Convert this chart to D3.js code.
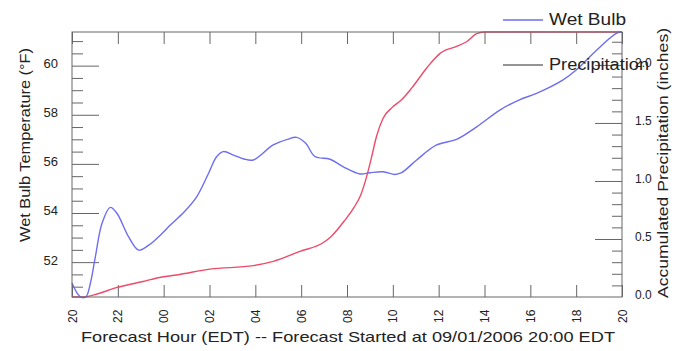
<!DOCTYPE html>
<html>
<head>
<meta charset="utf-8">
<script src="https://cdn.jsdelivr.net/npm/d3@7"></script>
<style>
  html, body { margin: 0; padding: 0; background: #fff; }
  svg { display: block; font-family: "Liberation Sans", Arial, sans-serif; }
</style>
</head>
<body>
<svg id="chart" width="682" height="351"></svg>
<script>
// ---- data ----
const wetBulbHours = [0, 0.35, 0.6, 0.8, 1.02, 1.31, 1.67, 1.96, 2.47, 2.91, 3.35, 3.93, 4.28, 4.9, 5.44, 5.95, 6.31, 6.6, 7.05, 7.5, 7.91, 8.78, 9.4, 9.8, 10.2, 10.6, 11.26, 11.84, 12.57, 13.0, 13.58, 14.09, 14.38, 15.04, 15.91, 16.78, 17.66, 18.67, 19.5, 20.27, 21.43, 22.0, 22.9, 23.77, 24];
const wetBulb = [51.15, 50.6, 50.58, 51.13, 52.22, 53.58, 54.23, 53.99, 53.03, 52.49, 52.69, 53.17, 53.5, 54.05, 54.66, 55.6, 56.29, 56.5, 56.36, 56.2, 56.16, 56.77, 57.0, 57.08, 56.84, 56.3, 56.19, 55.88, 55.59, 55.64, 55.68, 55.57, 55.64, 56.16, 56.77, 57.0, 57.51, 58.19, 58.6, 58.87, 59.42, 59.82, 60.64, 61.32, 61.37];

const precipHours = [0, 0.5, 1.0, 1.89, 3.1, 3.93, 4.57, 6.02, 7.91, 8.78, 9.95, 10.97, 11.3, 11.9, 12.3, 12.6, 12.86, 13.08, 13.29, 13.58, 13.95, 14.38, 14.82, 15.48, 16.06, 16.78, 17.22, 17.66, 18.0, 24];
const precip = [0, 0, 0.02, 0.078, 0.134, 0.172, 0.19, 0.24, 0.27, 0.307, 0.393, 0.47, 0.52, 0.66, 0.77, 0.88, 1.04, 1.212, 1.385, 1.543, 1.63, 1.70, 1.80, 1.974, 2.10, 2.16, 2.20, 2.27, 2.284, 2.284];

const hourTicks = [0, 2, 4, 6, 8, 10, 12, 14, 16, 18, 20, 22, 24];
const hourTickLabels = ["20", "22", "00", "02", "04", "06", "08", "10", "12", "14", "16", "18", "20"];
const tempTicks = [52, 54, 56, 58, 60];
const precipTicks = [0.0, 0.5, 1.0, 1.5, 2.0];

const seriesNames = ["Wet Bulb", "Precipitation"];
const xTitle = "Forecast Hour (EDT) -- Forecast Started at 09/01/2006 20:00 EDT";
const yLeftTitle = "Wet Bulb Temperature (\u00B0F)";
const yRightTitle = "Accumulated Precipitation (inches)";

// ---- layout ----
const L = 72, R = 622, T = 32, B = 297;
const blue = "#6e6ef0", red = "#ee4a6a", frameCol = "#666", textCol = "#222";

const svg = d3.select("#chart");

const x = d3.scaleLinear().domain([0, 24]).range([L, R]);
const yT = d3.scaleLinear().domain(d3.extent(wetBulb)).range([B, T]);
const yP = d3.scaleLinear().domain([0, d3.max(precip)]).range([B, T]);

function styleAxis(g) {
  g.select(".domain").remove();
  g.selectAll(".tick line").attr("stroke", frameCol).attr("stroke-width", 1);
  g.selectAll(".tick text").attr("fill", textCol).attr("font-size", 12)
    .attr("font-family", "Liberation Sans, Arial, sans-serif");
}

// minor ticks
const minorT = d3.range(50.5, 61.01, 0.5).filter(v => v >= yT.domain()[0] && v <= yT.domain()[1] && !tempTicks.includes(v));
svg.append("g").attr("transform", `translate(${L},0)`)
  .call(d3.axisLeft(yT).tickValues(minorT).tickSizeInner(-11).tickSizeOuter(0).tickFormat(""))
  .call(styleAxis);
const minorP = d3.range(1, 23).map(i => i / 10).filter(v => Math.abs(v * 2 - Math.round(v * 2)) > 1e-6);
svg.append("g").attr("transform", `translate(${R},0)`)
  .call(d3.axisRight(yP).tickValues(minorP).tickSizeInner(-10).tickSizeOuter(0).tickFormat(""))
  .call(styleAxis);

// major left
svg.append("g").attr("transform", `translate(${L},0)`)
  .call(d3.axisLeft(yT).tickValues(tempTicks).tickSizeInner(-27).tickSizeOuter(0).tickPadding(14).tickFormat(d3.format("d")))
  .call(styleAxis)
  .call(g => g.selectAll(".tick text").attr("dy", "0.15em").attr("font-size", 13));

// major right
svg.append("g").attr("transform", `translate(${R},0)`)
  .call(d3.axisRight(yP).tickValues(precipTicks).tickSizeInner(-27).tickSizeOuter(0).tickPadding(13).tickFormat(d3.format(".1f")))
  .call(styleAxis)
  .call(g => g.selectAll(".tick text").attr("dy", "0.15em"))
  .call(g => g.selectAll(".tick").filter(d => d === 0).select("line").remove());

// bottom
svg.append("g").attr("transform", `translate(0,${B})`)
  .call(d3.axisBottom(x).tickValues(hourTicks).tickSizeInner(-12).tickSizeOuter(0).tickFormat((d, i) => hourTickLabels[i]))
  .call(styleAxis)
  .call(g => g.selectAll(".tick text")
    .attr("transform", "rotate(-90)")
    .attr("x", -26).attr("y", 4).attr("dy", 0)
    .attr("text-anchor", "start"));

// top
svg.append("g").attr("transform", `translate(0,${T})`)
  .call(d3.axisTop(x).tickValues(hourTicks).tickSizeInner(-12).tickSizeOuter(0).tickFormat(""))
  .call(styleAxis);

// lines
const wbData = wetBulbHours.map((h, i) => [h, wetBulb[i]]);
const prData = precipHours.map((h, i) => [h, precip[i]]);

svg.append("path").datum(prData)
  .attr("fill", "none").attr("stroke", red).attr("stroke-width", 1.4)
  .attr("d", d3.line().x(d => x(d[0])).y(d => yP(d[1])).curve(d3.curveMonotoneX));
svg.append("path").datum(wbData)
  .attr("fill", "none").attr("stroke", blue).attr("stroke-width", 1.4)
  .attr("d", d3.line().x(d => x(d[0])).y(d => yT(d[1])).curve(d3.curveCatmullRom.alpha(0.5)));

// frame
svg.append("rect").attr("x", L).attr("y", T).attr("width", R - L).attr("height", B - T)
  .attr("fill", "none").attr("stroke", frameCol).attr("stroke-width", 1);

// titles
svg.append("text").attr("x", 81).attr("y", 342)
  .attr("font-size", 15).attr("fill", textCol)
  .attr("textLength", 534).attr("lengthAdjust", "spacingAndGlyphs")
  .text(xTitle);
svg.append("text").attr("transform", "translate(30,145) rotate(-90)")
  .attr("text-anchor", "middle").attr("font-size", 15).attr("fill", textCol)
  .attr("textLength", 194).attr("lengthAdjust", "spacingAndGlyphs")
  .text(yLeftTitle);
svg.append("text").attr("transform", "translate(668,163) rotate(-90)")
  .attr("text-anchor", "middle").attr("font-size", 15).attr("fill", textCol)
  .attr("textLength", 270).attr("lengthAdjust", "spacingAndGlyphs")
  .text(yRightTitle);

// legend
const legend = svg.append("g");
const legendColors = [blue, "#707070"];
const legendY = [20, 65];
const legendLen = [77, 100];
seriesNames.forEach((name, i) => {
  legend.append("line").attr("x1", 503).attr("x2", 543)
    .attr("y1", legendY[i]).attr("y2", legendY[i])
    .attr("stroke", legendColors[i]).attr("stroke-width", 1.4);
  legend.append("text").attr("x", 549).attr("y", legendY[i] + 4.5)
    .attr("font-size", 16).attr("fill", textCol)
    .attr("textLength", legendLen[i]).attr("lengthAdjust", "spacingAndGlyphs")
    .text(name);
});
</script>
</body>
</html>
